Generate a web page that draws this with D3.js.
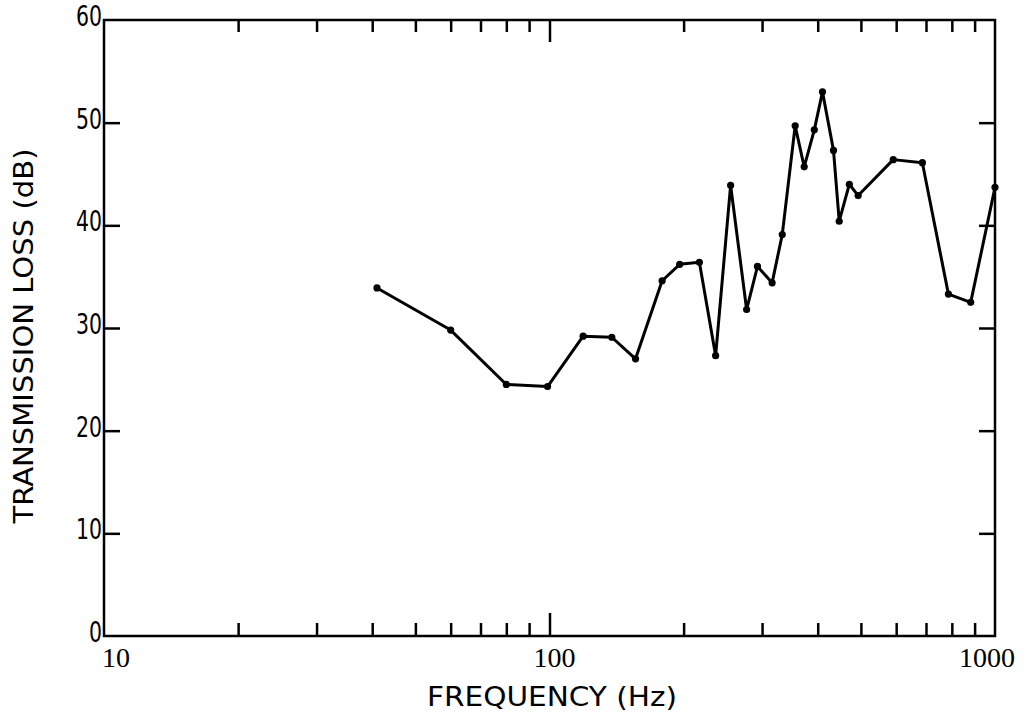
<!DOCTYPE html>
<html lang="en">
<head>
    <meta charset="UTF-8">
    <title>Transmission Loss</title>
    <style>
        html, body { margin: 0; padding: 0; background: #fff; }
        text { fill: #000; }
        .ytick { font-family: "DejaVu Sans Condensed", "DejaVu Sans", sans-serif; font-stretch: condensed; font-size: 28px; }
        .xtick { font-family: "Liberation Serif", "DejaVu Serif", serif; font-size: 28px; }
        .title { font-family: "DejaVu Sans Condensed", "DejaVu Sans", sans-serif; font-stretch: condensed; font-size: 27px; }
    </style>
</head>
<body>
    <div id="wrapper"></div>
    <script src="https://d3js.org/d3.v7.min.js"></script>
    <script>
        // 資料：頻率 (Hz) 與傳輸損失 (dB)
        const freqs = [41, 60, 80, 99, 119, 138, 156, 179, 196, 217, 236, 255, 277, 293, 316, 333,
            356, 373, 393, 410, 434, 447, 471, 493, 591, 687, 786, 882, 1000];
        const loss = [33.9, 29.8, 24.5, 24.3, 29.2, 29.1, 27.0, 34.6, 36.2, 36.4, 27.3, 43.9, 31.8, 36.0, 34.4, 39.1,
            49.7, 45.7, 49.3, 53.0, 47.3, 40.4, 44.0, 42.9, 46.4, 46.1, 33.3, 32.5, 43.7];
        const yTicks = [0, 10, 20, 30, 40, 50, 60];
        const xLabels = [10, 100, 1000];

        const width = 1026, height = 726;
        const mLeft = 104, mRight = 995, mTop = 20, mBottom = 636;

        const svg = d3.select('#wrapper').append('svg')
            .attr('width', width)
            .attr('height', height);

        const xScale = d3.scaleLog().domain([10, 1000]).range([mLeft, mRight]);
        const yScale = d3.scaleLinear().domain([0, 60]).range([mBottom, mTop]);

        // 小刻度 2..9 每十倍
        const minor = [];
        [10, 100].forEach(dec => {
            for (let i = 2; i <= 9; i++) minor.push(dec * i);
        });

        // 下軸 (刻度朝內)
        const xBottom = d3.axisBottom(xScale)
            .tickValues(minor)
            .tickSizeInner(-13)
            .tickSizeOuter(0)
            .tickFormat('');
        svg.append('g').attr('transform', `translate(0,${mBottom})`).call(xBottom);

        const xBottomMajor = d3.axisBottom(xScale)
            .tickValues([100])
            .tickSizeInner(-23)
            .tickSizeOuter(0)
            .tickFormat('');
        svg.append('g').attr('transform', `translate(0,${mBottom})`).call(xBottomMajor);

        // 上軸
        const xTop = d3.axisTop(xScale)
            .tickValues(minor)
            .tickSizeInner(-12)
            .tickSizeOuter(0)
            .tickFormat('');
        svg.append('g').attr('transform', `translate(0,${mTop})`).call(xTop);

        const xTopMajor = d3.axisTop(xScale)
            .tickValues([100])
            .tickSizeInner(-22)
            .tickSizeOuter(0)
            .tickFormat('');
        svg.append('g').attr('transform', `translate(0,${mTop})`).call(xTopMajor);

        // 左右軸
        const yLeft = d3.axisLeft(yScale)
            .tickValues(yTicks.slice(1, -1))
            .tickSizeInner(-16)
            .tickSizeOuter(0)
            .tickFormat('');
        svg.append('g').attr('transform', `translate(${mLeft},0)`).call(yLeft);

        const yRight = d3.axisRight(yScale)
            .tickValues(yTicks.slice(1, -1))
            .tickSizeInner(-16)
            .tickSizeOuter(0)
            .tickFormat('');
        svg.append('g').attr('transform', `translate(${mRight},0)`).call(yRight);

        svg.selectAll('.domain').remove();
        svg.selectAll('.tick line')
            .attr('stroke', '#000')
            .attr('stroke-width', 2.5);

        // 外框
        svg.append('rect')
            .attr('x', mLeft)
            .attr('y', mTop)
            .attr('width', mRight - mLeft)
            .attr('height', mBottom - mTop)
            .attr('fill', 'none')
            .attr('stroke', '#000')
            .attr('stroke-width', 2.5);

        // 刻度文字
        svg.append('g').selectAll('text')
            .data(yTicks)
            .join('text')
            .attr('class', 'ytick')
            .attr('x', mLeft - 2)
            .attr('y', d => yScale(d) + 6)
            .attr('text-anchor', 'end')
            .attr('textLength', d => String(d).length * 13)
            .attr('lengthAdjust', 'spacingAndGlyphs')
            .text(d => d);

        // X軸文字：10 靠左, 100 置中, 1000 靠右
        const anchorOf = d => d === 10 ? 'start' : d === 1000 ? 'end' : 'middle';
        const shiftOf = d => d === 10 ? -2 : d === 1000 ? 20 : 5;
        svg.append('g').selectAll('text')
            .data(xLabels)
            .join('text')
            .attr('class', 'xtick')
            .attr('x', d => xScale(d) + shiftOf(d))
            .attr('y', mBottom + 31)
            .attr('text-anchor', d => anchorOf(d))
            .text(d => d);

        // 軸標籤
        svg.append('text')
            .attr('class', 'title')
            .attr('x', 552)
            .attr('y', 706)
            .attr('text-anchor', 'middle')
            .attr('textLength', 250)
            .attr('lengthAdjust', 'spacingAndGlyphs')
            .text('FREQUENCY (Hz)');

        svg.append('text')
            .attr('class', 'title')
            .attr('transform', `translate(33,336) rotate(-90)`)
            .attr('text-anchor', 'middle')
            .attr('textLength', 375)
            .attr('lengthAdjust', 'spacingAndGlyphs')
            .text('TRANSMISSION LOSS (dB)');

        // 折線
        const data = freqs.map((f, i) => ({ f: f, v: loss[i] }));
        const line = d3.line()
            .x(d => xScale(d.f))
            .y(d => yScale(d.v));

        svg.append('path')
            .attr('d', line(data))
            .attr('fill', 'none')
            .attr('stroke', '#000')
            .attr('stroke-width', 3)
            .attr('stroke-linejoin', 'round');

        svg.append('g').selectAll('circle')
            .data(data)
            .join('circle')
            .attr('cx', d => xScale(d.f))
            .attr('cy', d => yScale(d.v))
            .attr('r', 3.6)
            .attr('fill', '#000');
    </script>
</body>
</html>
